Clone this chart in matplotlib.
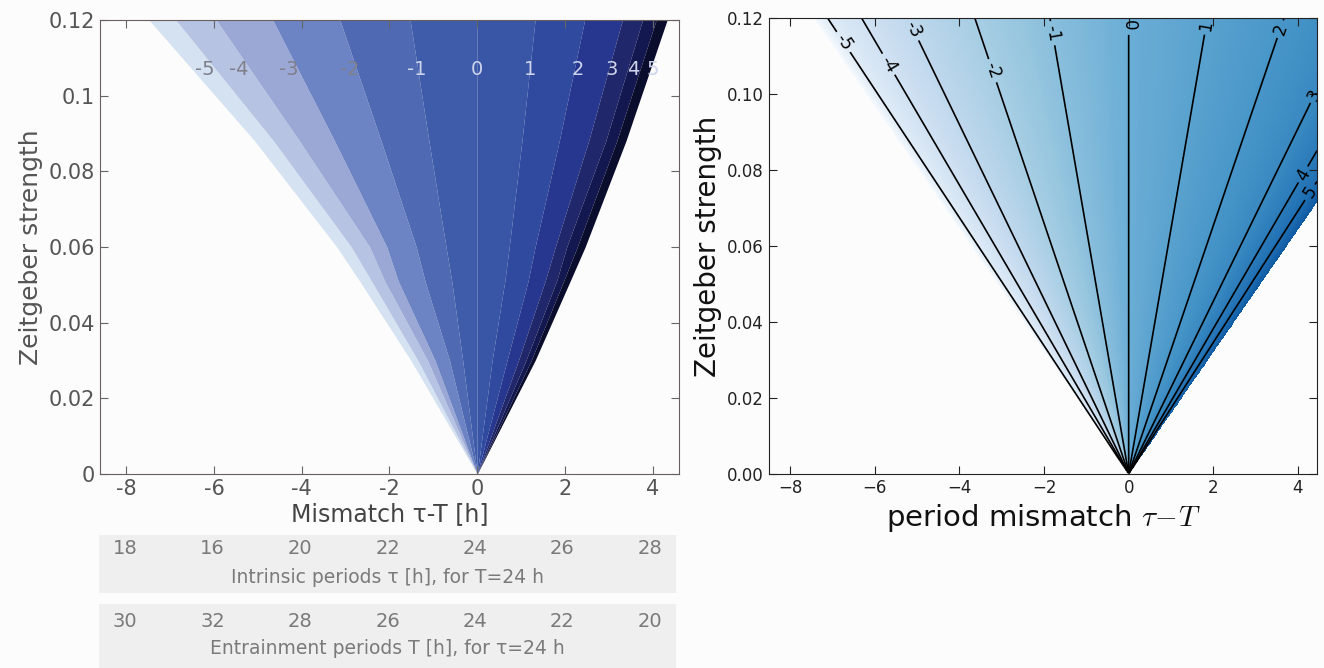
"""
Arnold tongue phase plots: left = banded phase map, right = phase contours on gradient
"""
import matplotlib
matplotlib.use("Agg")
import matplotlib.pyplot as plt
import matplotlib.ticker as mticker
from matplotlib.colors import TwoSlopeNorm
import numpy as np

plt.rcParams["mathtext.fontset"] = "cm"
plt.rcParams["contour.negative_linestyle"] = "solid"

BG_COLOR = "#fcfcfc"
LEFT_TEXT = "#555555"
BOX_COLOR = "#efefef"

# ---- left panel: band boundaries (x at each zeitgeber strength) ----
STRENGTH = [0.0, 0.03, 0.051, 0.06, 0.088, 0.12]
BOUNDARY_X = [
    [0, 0, 0, 0, 0, 0, 0, 0, 0, 0, 0, 0, 0],
    [-1.51, -1.35, -1.13, -0.96, -0.63, -0.33, 0, 0.34, 0.68, 0.94, 1.11, 1.23, 1.32],
    [-2.68, -2.41, -2.11, -1.80, -1.19, -0.58, 0, 0.63, 1.16, 1.55, 1.81, 1.97, 2.12],
    [-3.20, -2.87, -2.45, -2.06, -1.39, -0.71, 0, 0.73, 1.32, 1.78, 2.04, 2.28, 2.46],
    [-5.07, -4.64, -4.05, -3.25, -2.19, -1.10, 0, 1.02, 1.87, 2.54, 2.93, 3.18, 3.39],
    [-7.48, -6.87, -5.95, -4.66, -3.13, -1.53, 0, 1.32, 2.45, 3.31, 3.77, 4.08, 4.33],
]
BAND_COLORS = ["#d5e2f1", "#b7c3e3", "#9ba8d5", "#6c84c3", "#5069b3", "#3e5ca9",
               "#3955a5", "#2f4a9e", "#27368f", "#20276a", "#141850", "#0b0d2d"]

LEFT_LABELS = ["-5", "-4", "-3", "-2", "-1", "0", "1", "2", "3", "4", "5"]
LEFT_LABEL_X = [-6.2, -5.43, -4.3, -2.9, -1.38, 0, 1.2, 2.3, 3.07, 3.56, 4.0]
LEFT_LABEL_Y = 0.107

LEFT_XTICKS = [-8, -6, -4, -2, 0, 2, 4]
LEFT_XTICK_LABELS = ["-8", "-6", "-4", "-2", "0", "2", "4"]
TAU_LABELS = ["18", "16", "20", "22", "24", "26", "28"]
T_LABELS = ["30", "32", "28", "26", "24", "22", "20"]

# ---- right panel: contour level -> slope (mismatch / strength) ----
LEVELS = [-5, -4, -3, -2, -1, 0, 1, 2, 3, 4, 5]
SLOPES = [-59.3, -52.6, -43.5, -30.3, -15.5, 0, 15.5, 30.6, 44.0, 52.3, 57.8]
EDGE_SLOPE = 62.0
EDGE_LEVEL = 6.4
LABEL_POS = [(-6.74, 0.1137), (-5.65, 0.108), (-5.09, 0.117), (-3.25, 0.106),
             (-1.8, 0.116), (0, 0.118), (1.85, 0.118), (3.6, 0.117),
             (4.37, 0.100), (4.1, 0.079), (4.3, 0.074)]

fig = plt.figure(figsize=(13.24, 6.68), dpi=100, facecolor=BG_COLOR)

# ===== left panel =====
ax = fig.add_axes([0.0755, 0.2904, 0.4373, 0.6796])
ax.set_facecolor(BG_COLOR)
bx = np.array(BOUNDARY_X)
for i, c in enumerate(BAND_COLORS):
    ax.fill_betweenx(STRENGTH, bx[:, i], bx[:, i + 1], color=c, linewidth=0)
for lab, x in zip(LEFT_LABELS, LEFT_LABEL_X):
    col = "#7f7f8c" if lab in ("-5", "-4", "-3", "-2") else "#cdd4ec"
    ax.text(x, LEFT_LABEL_Y, lab, color=col, fontsize=14, ha="center", va="center")

ax.set_xlim(-8.6, 4.6)
ax.set_ylim(0, 0.12)
ax.set_xticks(LEFT_XTICKS)
ax.set_xticklabels(LEFT_XTICK_LABELS)
ax.set_yticks([0, 0.02, 0.04, 0.06, 0.08, 0.1, 0.12])
ax.yaxis.set_major_formatter(mticker.FormatStrFormatter("%g"))
ax.tick_params(direction="in", top=True, right=True, length=6, colors="#666666",
               labelcolor=LEFT_TEXT, labelsize=15)
for s in ax.spines.values():
    s.set_color("#6a5f5f")
ax.set_xlabel("Mismatch τ-T [h]", fontsize=17, color="#444444", labelpad=2)
ax.set_ylabel("Zeitgeber strength", fontsize=18, color=LEFT_TEXT)

# boxes with period translations
for bottom, height, labels, caption in [
    (0.1123, 0.0868, TAU_LABELS, "Intrinsic periods τ [h], for T=24 h"),
    (0.0, 0.0958, T_LABELS, "Entrainment periods T [h], for τ=24 h"),
]:
    bax = fig.add_axes([0.0748, bottom, 0.4358, height])
    bax.set_facecolor(BOX_COLOR)
    bax.set_xlim(-8.6, 4.6)
    bax.set_ylim(0, 1)
    bax.set_xticks([])
    bax.set_yticks([])
    for s in bax.spines.values():
        s.set_visible(False)
    for x, lab in zip(LEFT_XTICKS, labels):
        bax.text(x, 0.76 if height < 0.09 else 0.72, lab, fontsize=14,
                 color="#7a7a7a", ha="center", va="center")
    bax.text(0.5, 0.27 if height < 0.09 else 0.3, caption, transform=bax.transAxes,
             fontsize=13.5, color="#7a7a7a", ha="center", va="center")

# ===== right panel =====
ax2 = fig.add_axes([0.5808, 0.2904, 0.4139, 0.6826])
ax2.set_facecolor(BG_COLOR)
xs = np.linspace(-8.5, 4.45, 1200)
ys = np.linspace(1e-5, 0.12, 900)
X, Y = np.meshgrid(xs, ys)
R = X / Y
Z = np.interp(R, [-EDGE_SLOPE] + SLOPES + [EDGE_SLOPE],
              [-EDGE_LEVEL] + LEVELS + [EDGE_LEVEL])
Zm = np.ma.masked_where(np.abs(R) > EDGE_SLOPE, Z)
norm = TwoSlopeNorm(vcenter=0, vmin=-6.6, vmax=9.5)
ax2.imshow(Zm, extent=(-8.5, 4.45, 0, 0.12), origin="lower", aspect="auto",
           cmap="Blues", norm=norm, interpolation="nearest")
cs = ax2.contour(X, Y, Zm, levels=LEVELS, colors="k", linewidths=1.2,
                 linestyles="solid")
ax2.clabel(cs, fmt="%d", fontsize=12, inline=True, inline_spacing=4,
           manual=LABEL_POS)

ax2.set_xlim(-8.5, 4.45)
ax2.set_ylim(0, 0.12)
ax2.set_xticks([-8, -6, -4, -2, 0, 2, 4])
ax2.set_yticks([0, 0.02, 0.04, 0.06, 0.08, 0.10, 0.12])
ax2.yaxis.set_major_formatter(mticker.FormatStrFormatter("%.2f"))
ax2.tick_params(direction="in", top=True, right=True, length=6, labelsize=12,
                colors="#222222")
for s in ax2.spines.values():
    s.set_color("#222222")
ax2.set_xlabel("period mismatch $\\tau\\!-\\!T$", fontsize=21, color="#111111")
ax2.set_ylabel("Zeitgeber strength", fontsize=20, color="#111111")

fig.savefig("out.png", dpi=100, facecolor=BG_COLOR)
